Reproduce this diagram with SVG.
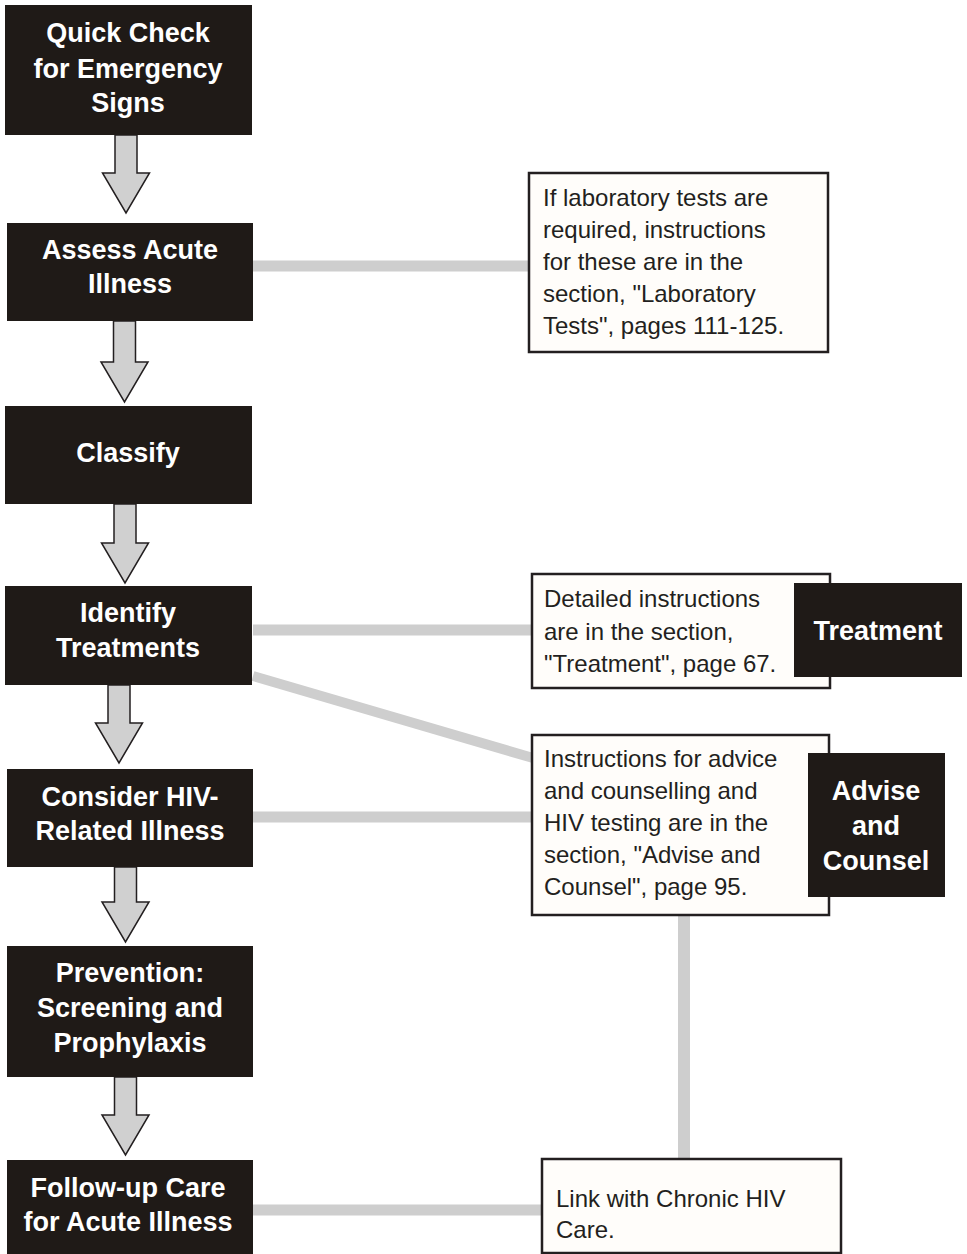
<svg xmlns="http://www.w3.org/2000/svg" width="967" height="1254" viewBox="0 0 967 1254">
<style>
.blk{fill:#1f1a17}
.bt{fill:#ffffff;font-family:"Liberation Sans",Arial,sans-serif;font-weight:bold;font-size:27px;text-anchor:middle}
.note{fill:#fffdfa;stroke:#231f20;stroke-width:2.5}
.nt{fill:#231f20;font-family:"Liberation Sans",Arial,sans-serif;font-size:24px}
.arr{fill:#d0d0d0;stroke:#231f20;stroke-width:1.5;stroke-linejoin:miter}
.con{stroke:#cecece;fill:none}
</style>
<rect width="967" height="1254" fill="#ffffff"/>
<g id="connectors">
<line class="con" x1="253" y1="266" x2="529" y2="266" stroke-width="11"/>
<line class="con" x1="253" y1="630" x2="533" y2="630" stroke-width="11"/>
<line class="con" x1="253" y1="676" x2="533" y2="758" stroke-width="10"/>
<line class="con" x1="253" y1="817" x2="533" y2="817" stroke-width="11"/>
<line class="con" x1="684" y1="915" x2="684" y2="1159" stroke-width="12"/>
<line class="con" x1="253" y1="1210" x2="543" y2="1210" stroke-width="11"/>
<polygon class="arr" points="115,135 137,135 137,173 149.5,173 126,213 102.5,173 115,173"/>
<polygon class="arr" points="113.5,321 135.5,321 135.5,362 148,362 124.5,402 101,362 113.5,362"/>
<polygon class="arr" points="114,504 136,504 136,543 148.5,543 125,583 101.5,543 114,543"/>
<polygon class="arr" points="108,685 130,685 130,723 142.5,723 119,763 95.5,723 108,723"/>
<polygon class="arr" points="114.5,867 136.5,867 136.5,902 149,902 125.5,942 102,902 114.5,902"/>
<polygon class="arr" points="114.5,1077 136.5,1077 136.5,1115 149,1115 125.5,1155 102,1115 114.5,1115"/>
</g>
<g id="quick-check">
<rect class="blk" x="5" y="5" width="247" height="130"/>
<text class="bt" x="128" y="42">Quick Check</text>
<text class="bt" x="128" y="78">for Emergency</text>
<text class="bt" x="128" y="112">Signs</text>
</g>
<g id="assess">
<rect class="blk" x="7" y="223" width="246" height="98"/>
<text class="bt" x="130" y="259">Assess Acute</text>
<text class="bt" x="130" y="293">Illness</text>
</g>
<g id="classify">
<rect class="blk" x="5" y="406" width="247" height="98"/>
<text class="bt" x="128" y="462">Classify</text>
</g>
<g id="identify">
<rect class="blk" x="5" y="586" width="247" height="99"/>
<text class="bt" x="128" y="622">Identify</text>
<text class="bt" x="128" y="657">Treatments</text>
</g>
<g id="consider">
<rect class="blk" x="7" y="769" width="246" height="98"/>
<text class="bt" x="130" y="806">Consider HIV-</text>
<text class="bt" x="130" y="840">Related Illness</text>
</g>
<g id="prevention">
<rect class="blk" x="7" y="946" width="246" height="131"/>
<text class="bt" x="130" y="982">Prevention:</text>
<text class="bt" x="130" y="1017">Screening and</text>
<text class="bt" x="130" y="1052">Prophylaxis</text>
</g>
<g id="follow-up">
<rect class="blk" x="7" y="1160" width="246" height="94"/>
<text class="bt" x="128" y="1197">Follow-up Care</text>
<text class="bt" x="128" y="1231">for Acute Illness</text>
</g>
<g id="lab-note">
<rect class="note" x="529" y="173" width="299" height="179"/>
<text class="nt" x="543" y="206">If laboratory tests are</text>
<text class="nt" x="543" y="238">required, instructions</text>
<text class="nt" x="543" y="270">for these are in the</text>
<text class="nt" x="543" y="302">section, "Laboratory</text>
<text class="nt" x="543" y="334">Tests", pages 111-125.</text>
</g>
<g id="treatment-note">
<rect class="note" x="532" y="574" width="298" height="114"/>
<text class="nt" x="544" y="607">Detailed instructions</text>
<text class="nt" x="544" y="640">are in the section,</text>
<text class="nt" x="544" y="672">"Treatment", page 67.</text>
</g>
<g id="treatment">
<rect class="blk" x="794" y="583" width="168" height="94"/>
<text class="bt" x="878" y="640">Treatment</text>
</g>
<g id="advice-note">
<rect class="note" x="532" y="735" width="297" height="180"/>
<text class="nt" x="544" y="767">Instructions for advice</text>
<text class="nt" x="544" y="799">and counselling and</text>
<text class="nt" x="544" y="831">HIV testing are in the</text>
<text class="nt" x="544" y="863">section, "Advise and</text>
<text class="nt" x="544" y="895">Counsel", page 95.</text>
</g>
<g id="advise-counsel">
<rect class="blk" x="808" y="753" width="137" height="144"/>
<text class="bt" x="876" y="800">Advise</text>
<text class="bt" x="876" y="835">and</text>
<text class="bt" x="876" y="870">Counsel</text>
</g>
<g id="link-note">
<rect class="note" x="542" y="1159" width="299" height="94"/>
<text class="nt" x="556" y="1207">Link with Chronic HIV</text>
<text class="nt" x="556" y="1238">Care.</text>
</g>
</svg>
